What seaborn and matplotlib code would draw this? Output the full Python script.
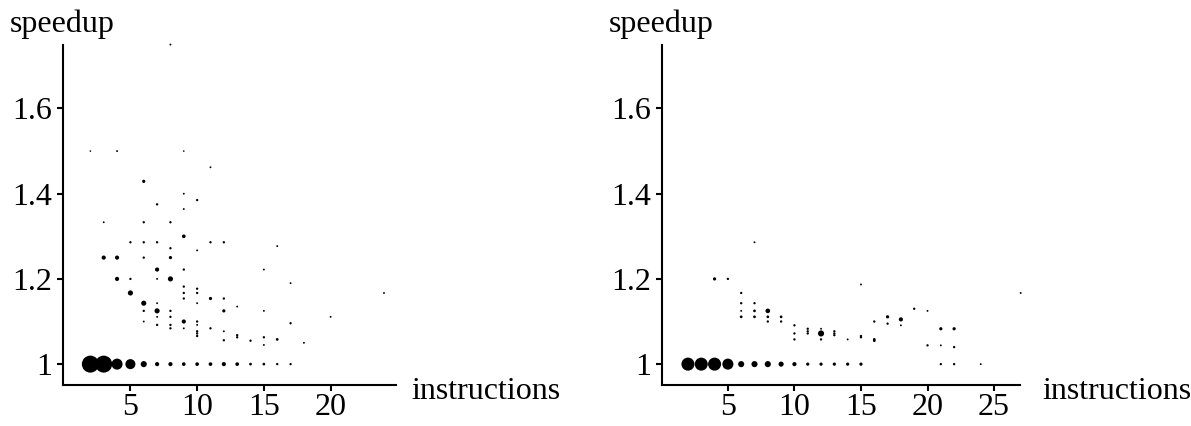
# Scatter of speedup against number of instructions, two panels
# dot area shows how many cases fall on each (instructions, speedup) pair

import numpy as np
import pandas as pd
import matplotlib
matplotlib.use('Agg')
import matplotlib.pyplot as plt
import seaborn as sns


# Left panel data
left_x = [2, 3, 4, 5, 6, 7, 8, 9, 10, 11, 12, 13, 14, 15, 16, 17,
          8, 2, 4, 9, 11,
          6, 9, 10, 7, 9,
          3, 6, 8, 9,
          5, 6, 7, 11, 12, 16, 8, 10,
          3, 4, 6, 8, 7, 9, 15,
          4, 5, 7, 8, 17, 9, 10,
          5, 9, 10, 24, 9, 11, 12,
          6, 7, 10, 13,
          6, 7, 8, 12, 15, 7, 8, 20,
          6, 9, 10, 7, 8, 10, 17,
          8, 9, 11, 10, 12,
          10, 13, 10, 13, 15,
          16, 12, 14, 18, 15]
left_y = [1, 1, 1, 1, 1, 1, 1, 1, 1, 1, 1, 1, 1, 1, 1, 1,
          1.75, 1.5, 1.5, 1.5, 1.462,
          1.429, 1.4, 1.385, 1.375, 1.364,
          1.333, 1.333, 1.333, 1.3,
          1.286, 1.286, 1.286, 1.286, 1.286, 1.277, 1.272, 1.267,
          1.25, 1.25, 1.25, 1.25, 1.222, 1.222, 1.222,
          1.2, 1.2, 1.2, 1.2, 1.19, 1.182, 1.177,
          1.167, 1.167, 1.167, 1.167, 1.154, 1.154, 1.154,
          1.143, 1.143, 1.143, 1.135,
          1.125, 1.125, 1.125, 1.125, 1.125, 1.111, 1.111, 1.111,
          1.1, 1.1, 1.1, 1.092, 1.092, 1.092, 1.096,
          1.084, 1.084, 1.084, 1.077, 1.077,
          1.072, 1.068, 1.066, 1.063, 1.063,
          1.058, 1.056, 1.055, 1.05, 1.045]
left_count = [289, 289, 121, 100, 36, 16, 16, 12, 12, 12, 16, 12, 6, 6, 4, 4,
              2, 1, 2, 1, 2,
              9, 2, 4, 4, 2,
              2, 4, 4, 12,
              4, 4, 4, 4, 4, 2, 4, 2,
              16, 16, 4, 9, 16, 4, 2,
              16, 4, 2, 25, 2, 4, 4,
              25, 4, 4, 2, 4, 9, 4,
              25, 2, 2, 2,
              4, 25, 4, 9, 2, 2, 4, 2,
              2, 16, 4, 4, 4, 2, 4,
              4, 2, 4, 4, 2,
              4, 4, 4, 4, 4,
              6, 4, 4, 2, 2]

# Right panel data
right_x = [2, 3, 4, 5, 6, 7, 8, 9, 10, 11, 12, 13, 14, 15, 21, 22, 24,
           7, 4, 5, 15, 6, 27,
           6, 7, 19,
           6, 7, 8, 20,
           6, 7, 8, 9, 17, 18,
           8, 9, 16, 17, 10, 18,
           11, 12, 21, 22, 11, 13,
           10, 11, 12, 13, 13, 15, 15,
           10, 12, 14, 16, 16, 20, 21, 22]
right_y = [1, 1, 1, 1, 1, 1, 1, 1, 1, 1, 1, 1, 1, 1, 1, 1, 1,
           1.286, 1.2, 1.2, 1.187, 1.167, 1.167,
           1.143, 1.143, 1.13,
           1.125, 1.125, 1.125, 1.125,
           1.111, 1.111, 1.111, 1.111, 1.111, 1.105,
           1.1, 1.1, 1.1, 1.095, 1.091, 1.091,
           1.083, 1.083, 1.083, 1.083, 1.077, 1.077,
           1.072, 1.072, 1.072, 1.072, 1.068, 1.066, 1.063,
           1.058, 1.058, 1.058, 1.058, 1.055, 1.044, 1.044, 1.04]
right_count = [169, 169, 169, 121, 36, 36, 36, 25, 16, 9, 9, 9, 9, 9, 4, 4, 2,
               2, 9, 4, 2, 4, 2,
               4, 4, 4,
               2, 6, 20, 2,
               6, 6, 6, 6, 9, 16,
               4, 4, 4, 4, 4, 2,
               4, 2, 9, 9, 4, 4,
               4, 4, 36, 4, 4, 4, 4,
               4, 4, 2, 6, 6, 4, 2, 4]

y_ticks = [1, 1.2, 1.4, 1.6]
y_tick_labels = ['1', '1.2', '1.4', '1.6']
left_x_ticks = [5, 10, 15, 20]
right_x_ticks = [5, 10, 15, 20, 25]

left_df = pd.DataFrame({'instructions': left_x, 'speedup': left_y,
                        'count': left_count})
right_df = pd.DataFrame({'instructions': right_x, 'speedup': right_y,
                         'count': right_count})

# Style: plain white, serif black text like the original
sns.set_style('ticks')
plt.rcParams['font.family'] = ['Liberation Serif', 'DejaVu Serif']
plt.rcParams['axes.linewidth'] = 1.5
plt.rcParams['text.color'] = 'black'

W, H = 1191, 426
fig = plt.figure(figsize=(W / 100, H / 100), dpi=100)
ax1 = fig.add_axes([63 / W, 41 / H, 333 / W, 340 / H])
ax2 = fig.add_axes([662 / W, 41 / H, 358 / W, 340 / H])

# area of dot ~ count (pixel diameter squared at 100 dpi)
s_max = 0.5184 * 300

panels = [(ax1, left_df, left_x_ticks, (-0.05, 24.9)),
          (ax2, right_df, right_x_ticks, (0.05, 26.95))]

for ax, df, xt, xl in panels:
    sns.scatterplot(data=df, x='instructions', y='speedup', size='count',
                    sizes=(0.8, s_max), size_norm=(0, 300), color='black',
                    linewidth=0, legend=False, clip_on=False, ax=ax)
    ax.set_xlim(*xl)
    ax.set_ylim(0.951, 1.749)
    ax.set_xticks(xt)
    ax.set_xticklabels([str(t) for t in xt])
    ax.set_yticks(y_ticks)
    ax.set_yticklabels(y_tick_labels)
    ax.set_xlabel('')
    ax.set_ylabel('')
    ax.tick_params(axis='both', direction='out', length=4.3, width=1.5,
                   labelsize=23, color='black', labelcolor='black')
    ax.tick_params(axis='x', pad=1.5)
    ax.tick_params(axis='y', pad=3.6)
    sns.despine(ax=ax)
    for sp in ['left', 'bottom']:
        ax.spines[sp].set_color('black')

# axis titles placed like the original (above y axis, right of x axis)
fig.text(10 / W, 1 - 32 / H, 'speedup', fontsize=23, va='baseline',
         color='black')
fig.text(609 / W, 1 - 32 / H, 'speedup', fontsize=23, va='baseline',
         color='black')
fig.text(411 / W, 1 - 399 / H, 'instructions', fontsize=23, va='baseline',
         color='black')
fig.text(1042 / W, 1 - 399 / H, 'instructions', fontsize=23, va='baseline',
         color='black')

fig.savefig('out.png', dpi=100, facecolor='white')
